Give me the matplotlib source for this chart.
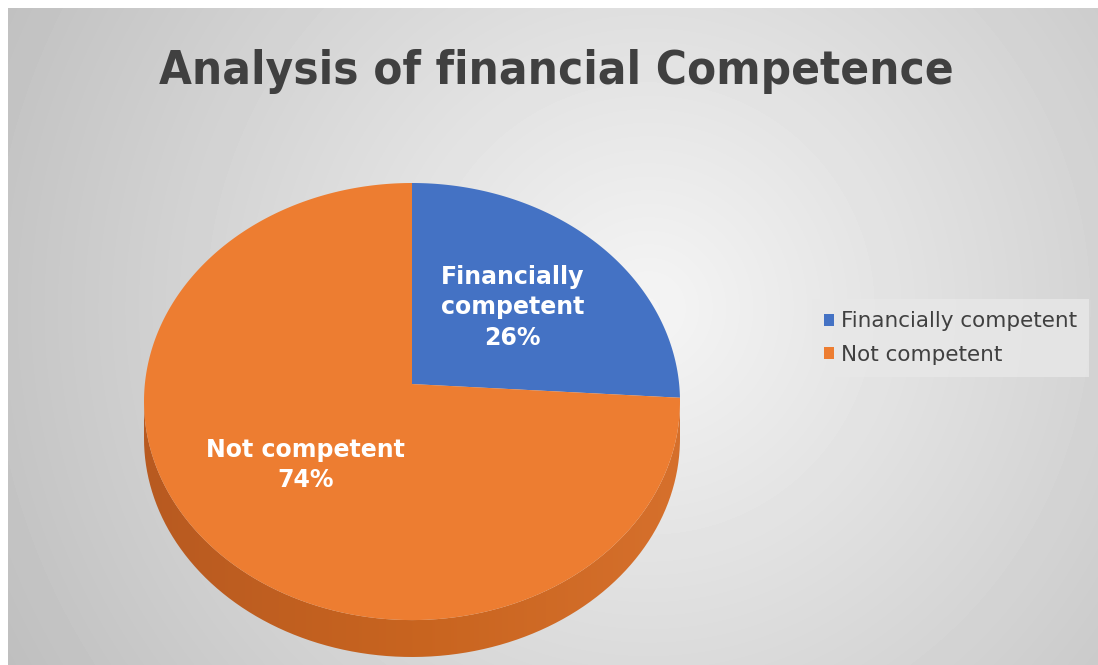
import numpy as np
import matplotlib.pyplot as plt
from matplotlib.path import Path
from matplotlib.patches import PathPatch, Polygon
from matplotlib.colors import LinearSegmentedColormap

categories = ["Financially competent", "Not competent"]
slice_labels = ["Financially\ncompetent", "Not competent"]
shares = [26, 74]
colors = ["#4472C4", "#ED7D31"]

W, H = 1098, 665
fig = plt.figure(figsize=(W / 100, H / 100), dpi=100)
fig.patch.set_facecolor("white")

# radial grey backdrop, lighter towards the middle
bg = fig.add_axes([8 / W, 0, 1 - 8 / W, 1 - 8 / H])
bh, bw = H - 8, W - 8
yy, xx = np.mgrid[0:bh, 0:bw]
dist = np.hypot(xx - 640, yy - 300)
shade = 0.96 - 0.22 * dist / 760
bg.imshow(shade, cmap="gray", vmin=0, vmax=1, aspect="auto", interpolation="bilinear")
bg.axis("off")

fig.text(556 / W, 1 - 72 / H, "Analysis of financial Competence",
         ha="center", va="center", fontsize=34, fontweight="bold",
         fontstretch="condensed", color="#404040")

# tilt: simple perspective so the far edge of the disc shrinks a little
k = 0.08
depth = 0.17


def project(xy):
    xy = np.asarray(xy, dtype=float)
    s = 1 + k * xy[:, 1]
    return np.column_stack([xy[:, 0] / s, xy[:, 1] / s])


pax = fig.add_axes([144 / W, 1 - 657 / H, 536 / W, 474 / H])

wedges, texts, autotexts = pax.pie(
    shares, colors=colors, startangle=90, counterclock=False,
    autopct="%1.0f%%", pctdistance=0.53,
    wedgeprops=dict(linewidth=0),
    textprops=dict(color="white", fontsize=17, fontweight="bold"))

# replace the flat wedges by their projected outlines
faces = []
for w in wedges:
    ang = np.radians(np.linspace(w.theta1, w.theta2, 300))
    arc = np.column_stack([np.cos(ang), np.sin(ang)]) * w.r + w.center
    poly = project(np.vstack([w.center, arc]))
    face = Polygon(poly, closed=True, facecolor=w.get_facecolor(),
                   edgecolor="none", zorder=2)
    pax.add_patch(face)
    faces.append(face)
    w.remove()

for txt, lab in zip(autotexts, slice_labels):
    txt.set_text(lab + "\n" + txt.get_text())
    txt.set_linespacing(1.33)
    txt.set_position(project([txt.get_position()])[0])
    txt.set_zorder(3)

# rim of the disc: lower half of the outline dropped by depth
t = np.linspace(0, 2 * np.pi, 1441)
outline = project(np.column_stack([np.cos(t), np.sin(t)]))
i_left, i_right = outline[:, 0].argmin(), outline[:, 0].argmax()
lower = outline[i_left:i_right + 1]
rim_poly = np.vstack([lower - [0, depth], lower[::-1]])
rim = PathPatch(Path(rim_poly, closed=False), facecolor="none", edgecolor="none")
pax.add_patch(rim)

xm = outline[:, 0].max()
y_lo, y_hi = outline[:, 1].min() - depth, outline[:, 1].max()
rim_cmap = LinearSegmentedColormap.from_list("rim", ["#B85A21", "#C8641F", "#D6702C"])
im = pax.imshow(np.linspace(0, 1, 256)[None, :], cmap=rim_cmap,
                extent=(-xm, xm, y_lo, 0.1), aspect="auto", zorder=1)
im.set_clip_path(rim)

pax.set_aspect("auto")
pax.set_xlim(-xm, xm)
pax.set_ylim(y_lo, y_hi)
pax.axis("off")

leg = fig.legend(faces, categories, loc="center left",
                 bbox_to_anchor=(812 / W, 1 - 338 / H), fontsize=15.5,
                 frameon=True, fancybox=False, handlelength=0.47,
                 handleheight=0.47, handletextpad=0.33, labelspacing=0.62,
                 borderpad=0.55, borderaxespad=0)
leg.get_frame().set_facecolor("#E8E8E8")
leg.get_frame().set_edgecolor("none")
leg.get_frame().set_alpha(0.8)
for txt in leg.get_texts():
    txt.set_color("#404040")

fig.savefig("out.png", dpi=100)
